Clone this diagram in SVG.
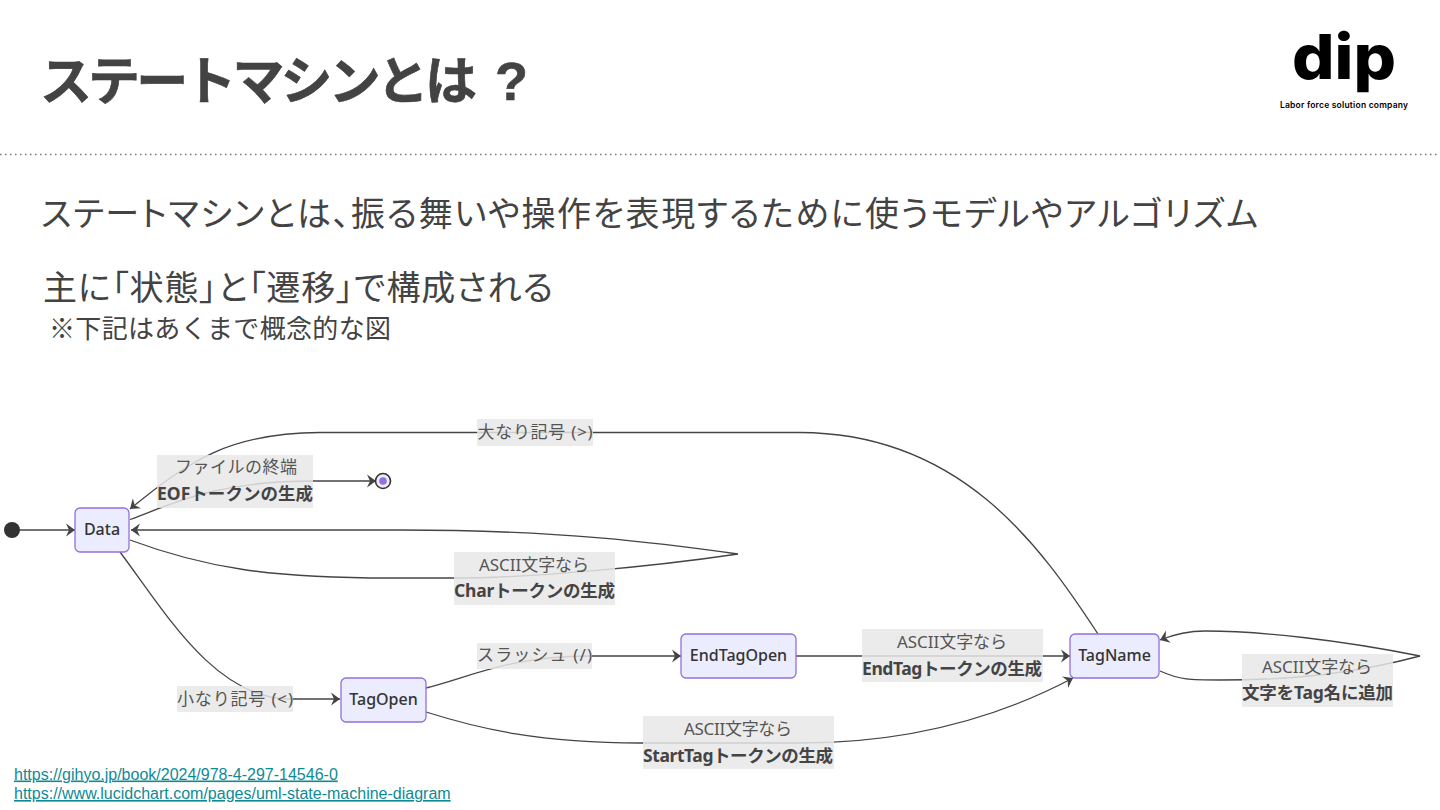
<svg xmlns="http://www.w3.org/2000/svg" width="1440" height="810" viewBox="0 0 1440 810">
<style>
.t{font-family:"Liberation Sans","Noto Sans CJK JP",sans-serif;fill:#434343}
.p{font-feature-settings:"palt"}
.n rect{fill:#ececff;stroke:#9370db;stroke-width:1.3}
.n text{font-family:"Noto Sans","Noto Sans CJK JP",sans-serif;font-size:16px;font-weight:500;fill:#333;text-anchor:middle}
.lb{fill:#e8e8e8;fill-opacity:.85}
.l{font-family:"Noto Sans","Noto Sans CJK JP",sans-serif;font-size:17px;fill:#555;text-anchor:middle}
.b{font-family:"Noto Sans","Noto Sans CJK JP",sans-serif;font-size:17.500px;font-weight:700;fill:#444;text-anchor:middle}
.c path{fill:none;stroke:#444;stroke-width:1.3;marker-end:url(#a)}
.u{font-family:"Liberation Sans",sans-serif;font-size:16px;fill:#0e8a96;text-decoration:underline}
</style>
<defs><marker id="a" markerUnits="userSpaceOnUse" markerWidth="14" markerHeight="16" refX="10" refY="8" orient="auto"><path d="M1 1.500 L10 8 L1 14.500 L4 8Z" fill="#444"/></marker></defs>
<rect width="1440" height="810" fill="#fff"/>
<text class="t" y="100" font-size="52" font-weight="700" stroke="#434343" stroke-width=".6"><tspan x="40" textLength="437">ステートマシンとは</tspan><tspan x="495" font-size="54">?</tspan></text>
<line x1="0" y1="154.500" x2="1440" y2="154.500" stroke="#777" stroke-width="1.500" stroke-dasharray="1.500 3.500"/>
<text class="t p" x="41" y="226" font-size="34" textLength="1217">ステートマシンとは、振る舞いや操作を表現するために使うモデルやアルゴリズム</text>
<text class="t p" x="43" y="300" font-size="34" textLength="510">主に「状態」と「遷移」で構成される</text>
<text class="t" x="49" y="338" font-size="26" textLength="342">※下記はあくまで概念的な図</text>
<g id="logo">
<text x="1344" y="79" font-family="Inter,'Liberation Sans',sans-serif" font-size="62" font-weight="800" fill="#000" text-anchor="middle" textLength="104" lengthAdjust="spacingAndGlyphs">dip</text>
<text x="1344" y="108" font-family="Inter,'Liberation Sans',sans-serif" font-size="8.500" font-weight="600" fill="#000" text-anchor="middle" textLength="128">Labor force solution company</text>
</g>
<g class="c">
<path d="M19 530H75"/>
<path d="M130 519.500C175 503 215 481 315 481H376"/>
<path d="M1098 634C1040 545 960 433 800 432.500H320C230 433 190 460 130 509"/>
<path d="M130 540C205 568 270 578 390 578H453C530 578 650 567 738 554C660 543 560 530 400 530H131"/>
<path d="M120 552C165 612 215 699 290 699H340"/>
<path d="M426 688C470 677 510 656 590 656H681"/>
<path d="M796 656H1070"/>
<path d="M426 712C480 729 540 743 640 743H800C900 743 990 722 1073 678"/>
<path d="M1160 671C1180 680 1190 680 1220 680C1300 680 1360 672 1420 656C1340 640 1260 631 1205 631C1190 631 1175 634 1160 640"/>
</g>
<g id="start"><circle cx="12" cy="530" r="8" fill="#333"/></g>
<g id="end"><circle cx="383" cy="481" r="7.500" fill="#ececff" stroke="#333" stroke-width="1.600"/><circle cx="383" cy="481" r="3.800" fill="#9370db"/></g>
<g id="data" class="n"><rect x="75" y="508" width="54" height="44" rx="5"/><text x="102" y="535">Data</text></g>
<g id="tagopen" class="n"><rect x="341" y="678" width="85" height="44" rx="5"/><text x="383.500" y="705">TagOpen</text></g>
<g id="endtagopen" class="n"><rect x="681" y="634" width="115" height="44" rx="5"/><text x="738.500" y="661">EndTagOpen</text></g>
<g id="tagname" class="n"><rect x="1070" y="634" width="89" height="44" rx="5"/><text x="1114.500" y="661">TagName</text></g>
<g id="labels">
<rect class="lb" x="477" y="419" width="116" height="27"/><text class="l" x="535" y="438" textLength="115">大なり記号 (&gt;)</text>
<rect class="lb" x="157" y="455" width="156" height="53"/><text class="l" x="236" y="473" textLength="122">ファイルの終端</text><text class="b" x="235" y="500" textLength="156">EOFトークンの生成</text>
<rect class="lb" x="454" y="552" width="161" height="53"/><text class="l" x="534" y="571" textLength="110">ASCII文字なら</text><text class="b" x="534.500" y="597" textLength="161">Charトークンの生成</text>
<rect class="lb" x="177" y="686" width="116" height="26"/><text class="l" x="235" y="705" textLength="116">小なり記号 (&lt;)</text>
<rect class="lb" x="477" y="643" width="115" height="26"/><text class="l" x="534.500" y="661" textLength="115">スラッシュ (/)</text>
<rect class="lb" x="862" y="629" width="181" height="53"/><text class="l" x="952" y="648" textLength="110">ASCII文字なら</text><text class="b" x="952" y="675" textLength="180">EndTagトークンの生成</text>
<rect class="lb" x="643" y="716" width="191" height="53"/><text class="l" x="738" y="735" textLength="108">ASCII文字なら</text><text class="b" x="738" y="762" textLength="190">StartTagトークンの生成</text>
<rect class="lb" x="1242" y="654" width="151" height="53"/><text class="l" x="1317" y="673" textLength="110">ASCII文字なら</text><text class="b" x="1317.500" y="699" textLength="151">文字をTag名に追加</text>
</g>
<text class="u" x="14" y="779.500">https://gihyo.jp/book/2024/978-4-297-14546-0</text>
<text class="u" x="14" y="799">https://www.lucidchart.com/pages/uml-state-machine-diagram</text>
</svg>
